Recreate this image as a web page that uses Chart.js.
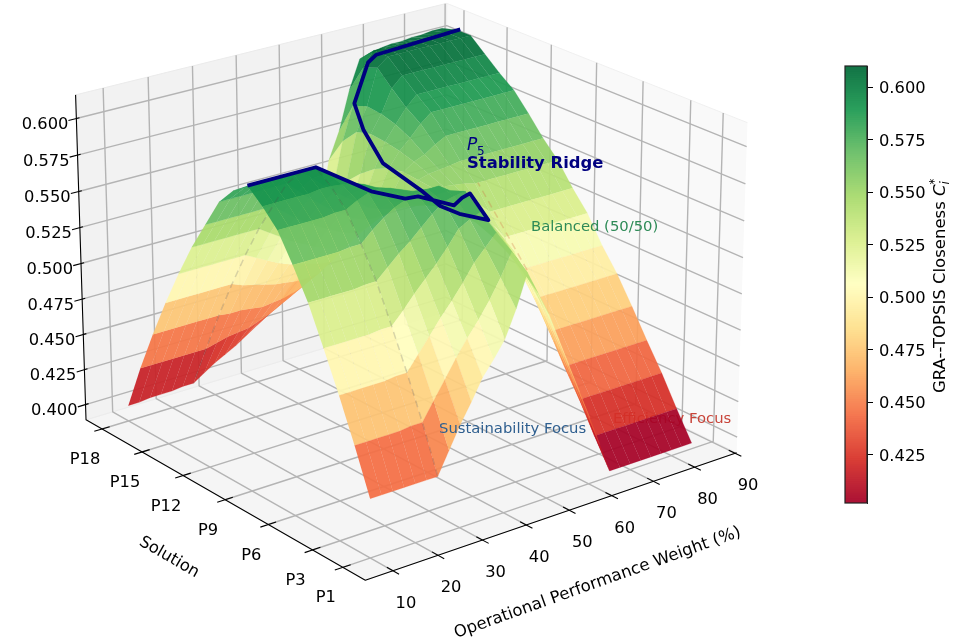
<!DOCTYPE html>
<html>
<head>
<meta charset="utf-8">
<script src="https://cdn.jsdelivr.net/npm/chart.js@4"></script>
<style>
  body { margin: 0; background: #fff; }
  #surfaceChart { position: absolute; left: 0; top: 0; }
  #colorbarChart { position: absolute; left: 840px; top: 0; }
</style>
</head>
<body>
<canvas id="surfaceChart" width="956" height="640"></canvas>
<canvas id="colorbarChart" width="116" height="640"></canvas>
<script>
// axis values
const weightTicks = [10, 20, 30, 40, 50, 60, 70, 80, 90];
const solutionTicks = [1, 3, 6, 9, 12, 15, 18];
const closenessTicks = [0.4, 0.425, 0.45, 0.475, 0.5, 0.525, 0.55, 0.575, 0.6];
const colorbarTicks = [0.425, 0.45, 0.475, 0.5, 0.525, 0.55, 0.575, 0.6];

// surface, one list per weight, P1 to P18
const surfaceWeights = [10, 12.5, 15, 17.5, 20, 22.5, 25, 27.5, 30, 32.5, 35, 37.5, 40, 42.5, 45, 47.5, 50,
  52.5, 55, 57.5, 60, 62.5, 65, 67.5, 70, 72.5, 75, 77.5, 80, 82.5, 85];
const closeW10 = [.429, .459, .487, .513, .538, .558, .576, .587, .596, .588, .576, .556, .536, .513, .488, .461, .432, .400];
const closeW12 = [.429, .459, .487, .513, .538, .558, .576, .587, .596, .588, .576, .556, .536, .513, .488, .461, .432, .400];
const closeW15 = [.429, .459, .487, .513, .538, .558, .576, .587, .596, .588, .576, .556, .536, .513, .488, .461, .432, .401];
const closeW17 = [.429, .459, .487, .513, .538, .558, .576, .587, .596, .588, .576, .556, .536, .513, .488, .461, .432, .401];
const closeW20 = [.429, .459, .487, .513, .538, .558, .576, .587, .596, .588, .576, .556, .536, .513, .488, .461, .432, .401];
const closeW22 = [.429, .460, .488, .514, .539, .559, .577, .588, .596, .588, .576, .556, .536, .513, .488, .461, .432, .402];
const closeW25 = [.429, .460, .488, .514, .539, .559, .577, .588, .596, .588, .576, .556, .536, .513, .488, .461, .432, .402];
const closeW27 = [.444, .472, .498, .522, .546, .566, .581, .587, .590, .582, .569, .550, .531, .509, .485, .460, .434, .407];
const closeW30 = [.459, .484, .508, .531, .553, .572, .584, .586, .585, .575, .562, .544, .526, .505, .483, .460, .436, .412];
const closeW32 = [.472, .496, .518, .539, .559, .577, .585, .583, .579, .569, .556, .539, .521, .501, .481, .459, .437, .416];
const closeW35 = [.486, .507, .527, .547, .566, .580, .583, .579, .573, .563, .550, .534, .517, .498, .479, .458, .438, .420];
const closeW37 = [.496, .517, .537, .556, .573, .582, .580, .575, .568, .558, .545, .530, .513, .496, .478, .459, .441, .425];
const closeW40 = [.507, .528, .548, .566, .579, .583, .577, .571, .563, .552, .540, .526, .510, .494, .477, .460, .444, .430];
const closeW42 = [.525, .541, .556, .570, .581, .583, .575, .568, .559, .549, .537, .523, .508, .492, .477, .462, .448, .435];
const closeW45 = [.547, .556, .564, .573, .582, .578, .570, .563, .556, .547, .536, .522, .507, .492, .478, .465, .452, .440];
const closeW47 = [.531, .541, .549, .555, .559, .560, .559, .557, .553, .546, .537, .525, .512, .500, .488, .477, .464, .450];
const closeW50 = [.515, .530, .542, .550, .556, .557, .556, .554, .550, .545, .538, .530, .520, .510, .500, .490, .475, .457];
const closeW52 = [.495, .512, .527, .539, .547, .552, .553, .553, .552, .549, .546, .543, .537, .529, .520, .510, .495, .476];
const closeW55 = [.475, .494, .511, .525, .537, .545, .549, .552, .553, .553, .554, .555, .553, .548, .540, .530, .518, .495];
const closeW57 = [.455, .474, .492, .508, .522, .535, .541, .546, .550, .552, .556, .560, .563, .565, .566, .563, .552, .534];
const closeW60 = [.435, .454, .472, .490, .507, .524, .532, .540, .546, .551, .557, .563, .570, .575, .578, .579, .575, .553];
const closeW62 = [.414, .433, .452, .470, .488, .505, .517, .530, .540, .550, .558, .568, .578, .585, .594, .604, .600, .580];
const closeW65 = [.393, .412, .432, .450, .469, .487, .502, .520, .533, .548, .559, .572, .584, .592, .601, .610, .610, .600];
const closeW67 = [.393, .412, .432, .450, .469, .487, .502, .520, .533, .548, .559, .572, .584, .592, .601, .610, .610, .602];
const closeW70 = [.393, .412, .432, .450, .469, .487, .502, .520, .533, .548, .559, .572, .584, .592, .601, .610, .610, .604];
const closeW72 = [.393, .412, .432, .450, .469, .487, .502, .520, .533, .548, .559, .572, .584, .592, .601, .610, .610, .605];
const closeW75 = [.393, .412, .432, .450, .469, .487, .502, .520, .533, .548, .559, .572, .584, .592, .601, .610, .610, .605];
const closeW77 = [.393, .412, .432, .450, .469, .487, .502, .520, .533, .548, .559, .572, .584, .592, .601, .610, .610, .606];
const closeW80 = [.393, .412, .432, .450, .469, .487, .502, .520, .533, .548, .559, .572, .584, .592, .601, .610, .610, .606];
const closeW82 = [.393, .412, .432, .450, .469, .487, .502, .520, .533, .548, .559, .572, .584, .592, .601, .610, .610, .607];
const closeW85 = [.393, .412, .432, .450, .469, .487, .502, .520, .533, .548, .559, .572, .584, .592, .601, .610, .610, .607];
const surfaceColumns = [closeW10, closeW12, closeW15, closeW17, closeW20, closeW22, closeW25, closeW27, closeW30, closeW32,
  closeW35, closeW37, closeW40, closeW42, closeW45, closeW47, closeW50, closeW52, closeW55, closeW57, closeW60, closeW62,
  closeW65, closeW67, closeW70, closeW72, closeW75, closeW77, closeW80, closeW82, closeW85];

// stability ridge path
const ridgeWeights = [10, 25, 30, 32.5, 35, 40, 42.5, 45, 50, 52.5, 55, 57.5, 60, 62.5, 64, 67, 69, 89.5];
const ridgeSolutions = [9, 9, 6.8, 5.3, 5.2, 4.3, 4.5, 4.7, 4.9, 7.5, 9.5, 11.4, 14.9, 17, 18.1, 18, 18, 18];
const ridgeCloseness = [.596, .596, .586, .586, .586, .580, .582, .582, .559, .549, .543, .542, .544, .556, .569, .596, .600, .603];

// dashed focus lines
const balancedSolutions = [2.4, 3.9, 5.6];
const balancedCloseness = [.5375, .558, .581];

// colormap RdYlGn
const rdYlGn = [[165, 0, 38], [215, 48, 39], [244, 109, 67], [253, 174, 97], [254, 224, 139], [255, 255, 191],
  [217, 239, 139], [166, 217, 106], [102, 189, 99], [26, 152, 80], [0, 104, 55]];
const colorMin = 0.402;
const colorMax = 0.61;
const surfaceAlpha = 0.93;

function cmap(value) {
  let t = Math.min(1, Math.max(0, (value - colorMin) / (colorMax - colorMin))) * 10;
  let i = Math.min(9, Math.floor(t));
  let f = t - i;
  return rdYlGn[i].map((c, k) => c + (rdYlGn[i + 1][k] - c) * f);
}

// 3d view like mplot3d
const weightLim = [3.95, 90.4];
const solutionLim = [-0.47, 19.22];
const closenessLim = [0.389, 0.616];
const boxSize = [1.143, 1.143, 0.857];
const elev = 22 * Math.PI / 180;
const azim = -128 * Math.PI / 180;
const viewDist = 10;
const screenScale = 412;
const screenX = 408.4;
const screenY = 275;

const dir = [Math.cos(elev) * Math.cos(azim), Math.cos(elev) * Math.sin(azim), Math.sin(elev)];
const right = [-Math.sin(azim), Math.cos(azim), 0];
const up = [dir[1] * right[2] - dir[2] * right[1], dir[2] * right[0] - dir[0] * right[2], dir[0] * right[1] - dir[1] * right[0]];

function project(weight, solution, closeness) {
  let q = [
    ((weight - weightLim[0]) / (weightLim[1] - weightLim[0]) - 0.5) * boxSize[0],
    ((solution - solutionLim[0]) / (solutionLim[1] - solutionLim[0]) - 0.5) * boxSize[1],
    ((closeness - closenessLim[0]) / (closenessLim[1] - closenessLim[0]) - 0.5) * boxSize[2]
  ];
  let dot = (a, b) => a[0] * b[0] + a[1] * b[1] + a[2] * b[2];
  let depth = viewDist - dot(q, dir);
  return {
    x: screenX + screenScale * viewDist * dot(q, right) / depth,
    y: screenY - screenScale * viewDist * dot(q, up) / depth,
    depth: depth
  };
}

function polyline(points, color, width, dash) {
  return {
    data: points.map(p => project(p[0], p[1], p[2])),
    showLine: true, pointRadius: 0, fill: false, tension: 0,
    borderColor: color, borderWidth: width, borderDash: dash || [],
    borderJoinStyle: 'round', borderCapStyle: 'butt'
  };
}

function polygon(points, color, edgeColor, edgeWidth) {
  return {
    data: points.map(p => project(p[0], p[1], p[2])),
    showLine: true, pointRadius: 0, fill: 'shape', tension: 0,
    backgroundColor: color, borderColor: edgeColor, borderWidth: edgeWidth
  };
}

const [xA, xB] = weightLim;
const [yA, yB] = solutionLim;
const [zA, zB] = closenessLim;
const gridColor = '#b4b4b4';
const backLayers = [];

// panes
backLayers.push(polygon([[xA, yA, zA], [xB, yA, zA], [xB, yB, zA], [xA, yB, zA]], '#f5f5f5', '#f0f0f0', 1));
backLayers.push(polygon([[xA, yB, zA], [xB, yB, zA], [xB, yB, zB], [xA, yB, zB]], '#f2f2f2', '#ebebeb', 1));
backLayers.push(polygon([[xB, yA, zA], [xB, yB, zA], [xB, yB, zB], [xB, yA, zB]], '#f9f9f9', '#f0f0f0', 1));

// grid
weightTicks.forEach(w => backLayers.push(polyline([[w, yA, zA], [w, yB, zA], [w, yB, zB]], gridColor, 1.4)));
solutionTicks.forEach(s => backLayers.push(polyline([[xA, s, zA], [xB, s, zA], [xB, s, zB]], gridColor, 1.4)));
closenessTicks.forEach(z => backLayers.push(polyline([[xA, yB, z], [xB, yB, z], [xB, yA, z]], gridColor, 1.4)));

// axis lines and tick marks
backLayers.push(polyline([[xA, yB, zB], [xA, yB, zA], [xA, yA, zA], [xB, yA, zA]], '#000', 1.1));
const xTick = (xB - xA) * 0.02;
const yTick = (yB - yA) * 0.02;
weightTicks.forEach(w => backLayers.push(polyline([[w, yA - yTick, zA], [w, yA + yTick, zA]], '#000', 1.1)));
solutionTicks.forEach(s => backLayers.push(polyline([[xA - xTick, s, zA], [xA + xTick, s, zA]], '#000', 1.1)));
closenessTicks.forEach(z => backLayers.push(polyline([[xA - xTick, yB, z], [xA + xTick * 0.4, yB, z]], '#000', 1.1)));

// surface cells, far ones first
const cells = [];
for (let c = 0; c < surfaceWeights.length - 1; c++) {
  for (let r = 0; r < 17; r++) {
    let corners = [
      [surfaceWeights[c], r + 1, surfaceColumns[c][r]],
      [surfaceWeights[c + 1], r + 1, surfaceColumns[c + 1][r]],
      [surfaceWeights[c + 1], r + 2, surfaceColumns[c + 1][r + 1]],
      [surfaceWeights[c], r + 2, surfaceColumns[c][r + 1]]
    ];
    let mean = corners.reduce((sum, p) => sum + p[2], 0) / 4;
    let depth = corners.reduce((sum, p) => sum + project(p[0], p[1], p[2]).depth, 0) / 4;
    let rgb = cmap(mean).map(Math.round);
    let fillColor = `rgba(${rgb[0]},${rgb[1]},${rgb[2]},${surfaceAlpha})`;
    cells.push({ depth: depth, set: polygon(corners, fillColor, `rgba(${rgb[0]},${rgb[1]},${rgb[2]},0.6)`, 0.35) });
  }
}
cells.sort((a, b) => b.depth - a.depth);

const frontLayers = [
  polyline(closeW25.map((z, i) => [25, i + 1, z]), 'rgba(70,70,70,0.2)', 1.5, [7, 5]),
  polyline(balancedSolutions.map((s, i) => [50, s, balancedCloseness[i]]), 'rgba(205,90,50,0.25)', 1.5, [7, 5]),
  polyline(ridgeWeights.map((w, i) => [w, ridgeSolutions[i], ridgeCloseness[i]]), '#000080', 3.8)
];

// chart draws low index on top
const layers = backLayers.concat(cells.map(c => c.set), frontLayers);
const datasets = layers.slice().reverse();
const lastBackIndex = datasets.length - backLayers.length;

const fontName = '"DejaVu Sans"';

function text(ctx, str, x, y, font, color, align, angle) {
  ctx.save();
  ctx.translate(x, y);
  if (angle) ctx.rotate(angle * Math.PI / 180);
  ctx.font = font;
  ctx.fillStyle = color;
  ctx.textAlign = align || 'left';
  ctx.textBaseline = 'alphabetic';
  ctx.fillText(str, 0, 0);
  ctx.restore();
}

const underSurfaceText = {
  id: 'underSurfaceText',
  afterDatasetDraw(chart, args) {
    if (args.index !== lastBackIndex) return;
    text(chart.ctx, 'Efficiency Focus', 613, 423, `14.8px ${fontName}`, '#c8453a');
  }
};

const labelText = {
  id: 'labelText',
  afterDatasetsDraw(chart) {
    let ctx = chart.ctx;
    let tickFont = `16.3px ${fontName}`;
    weightTicks.forEach(w => {
      let p = project(w, yA, zA);
      text(ctx, String(w), p.x + 13, p.y + 31 + 6, tickFont, '#000', 'center');
    });
    solutionTicks.forEach(s => {
      let p = project(xA, s, zA);
      text(ctx, 'P' + s, p.x - 17, p.y + 29 + 6, tickFont, '#000', 'center');
    });
    closenessTicks.forEach(z => {
      let p = project(xA, yB, z);
      text(ctx, z.toFixed(3), p.x - 8, p.y + 10.5, tickFont, '#000', 'right');
    });
    text(ctx, 'Solution', 167, 561, `16.3px ${fontName}`, '#000', 'center', 30);
    text(ctx, 'Operational Performance Weight (%)', 599, 587, `16.5px ${fontName}`, '#000', 'center', -19.7);
    text(ctx, 'GRA--TOPSIS Closeness', -1, 263, `16.3px ${fontName}`, '#000', 'center', -90);

    text(ctx, 'Sustainability Focus', 439, 433, `14.8px ${fontName}`, '#2f5f8f');
    text(ctx, 'Balanced (50/50)', 531, 231, `14.8px ${fontName}`, '#2e8b57');
    text(ctx, 'P', 467, 150, `italic 17px ${fontName}`, '#000080');
    text(ctx, '5', 477, 155, `12px ${fontName}`, '#000080');
    text(ctx, 'Stability Ridge', 467, 168, `bold 16.4px ${fontName}`, '#000080');
  }
};

let surfaceChart = new Chart(document.getElementById('surfaceChart'), {
  type: 'scatter',
  data: { datasets: datasets },
  options: {
    responsive: false,
    animation: false,
    layout: { padding: 0 },
    plugins: { legend: { display: false }, tooltip: { enabled: false } },
    scales: {
      x: { type: 'linear', min: 0, max: 956, display: false },
      y: { type: 'linear', min: 0, max: 640, reverse: true, display: false }
    }
  },
  plugins: [underSurfaceText, labelText]
});

// colorbar
const colorbarSets = [];
for (let v = colorMin; v < colorMax; v += 0.001) {
  let rgb = cmap(v + 0.0005).map(c => Math.round(c * surfaceAlpha + 255 * (1 - surfaceAlpha)));
  colorbarSets.push({
    data: [[v, Math.min(colorMax, v + 0.0012)]],
    backgroundColor: `rgb(${rgb[0]},${rgb[1]},${rgb[2]})`,
    borderWidth: 0,
    barPercentage: 1,
    categoryPercentage: 1,
    grouped: false
  });
}

const colorbarFrame = {
  id: 'colorbarFrame',
  afterDraw(chart) {
    let ctx = chart.ctx;
    let a = chart.chartArea;
    ctx.save();
    ctx.strokeStyle = '#222';
    ctx.lineWidth = 1.2;
    ctx.strokeRect(a.left, a.top, a.right - a.left, a.bottom - a.top);
    ctx.translate(105, 393);
    ctx.rotate(-Math.PI / 2);
    ctx.fillStyle = '#000';
    ctx.font = `16.5px ${fontName}`;
    let label = 'GRA--TOPSIS Closeness ';
    ctx.fillText(label, 0, 0);
    let w = ctx.measureText(label).width;
    ctx.font = `italic 16.5px ${fontName}`;
    ctx.fillText('C', w, 0);
    let cw = ctx.measureText('C').width;
    ctx.font = `italic 11.5px ${fontName}`;
    ctx.fillText('i', w + cw, 4);
    ctx.font = `11.5px ${fontName}`;
    ctx.fillText('*', w + cw, -7);
    ctx.restore();
  }
};

let colorbarChart = new Chart(document.getElementById('colorbarChart'), {
  type: 'bar',
  data: { labels: ['closeness'], datasets: colorbarSets },
  options: {
    responsive: false,
    animation: false,
    layout: { padding: { left: 5, top: 66, bottom: 137, right: 0 } },
    plugins: { legend: { display: false }, tooltip: { enabled: false } },
    scales: {
      x: { display: false },
      y: {
        position: 'right',
        min: colorMin,
        max: colorMax,
        afterBuildTicks(axis) { axis.ticks = colorbarTicks.map(v => ({ value: v })); },
        afterFit(axis) { axis.width = 89; },
        ticks: {
          color: '#000',
          padding: 6,
          labelOffset: 2,
          font: { family: 'DejaVu Sans', size: 16.3 },
          callback: v => v.toFixed(3)
        },
        border: { color: '#222' },
        grid: { drawOnChartArea: false, color: '#000', tickLength: 6 }
      }
    }
  },
  plugins: [colorbarFrame]
});
</script>
</body>
</html>
